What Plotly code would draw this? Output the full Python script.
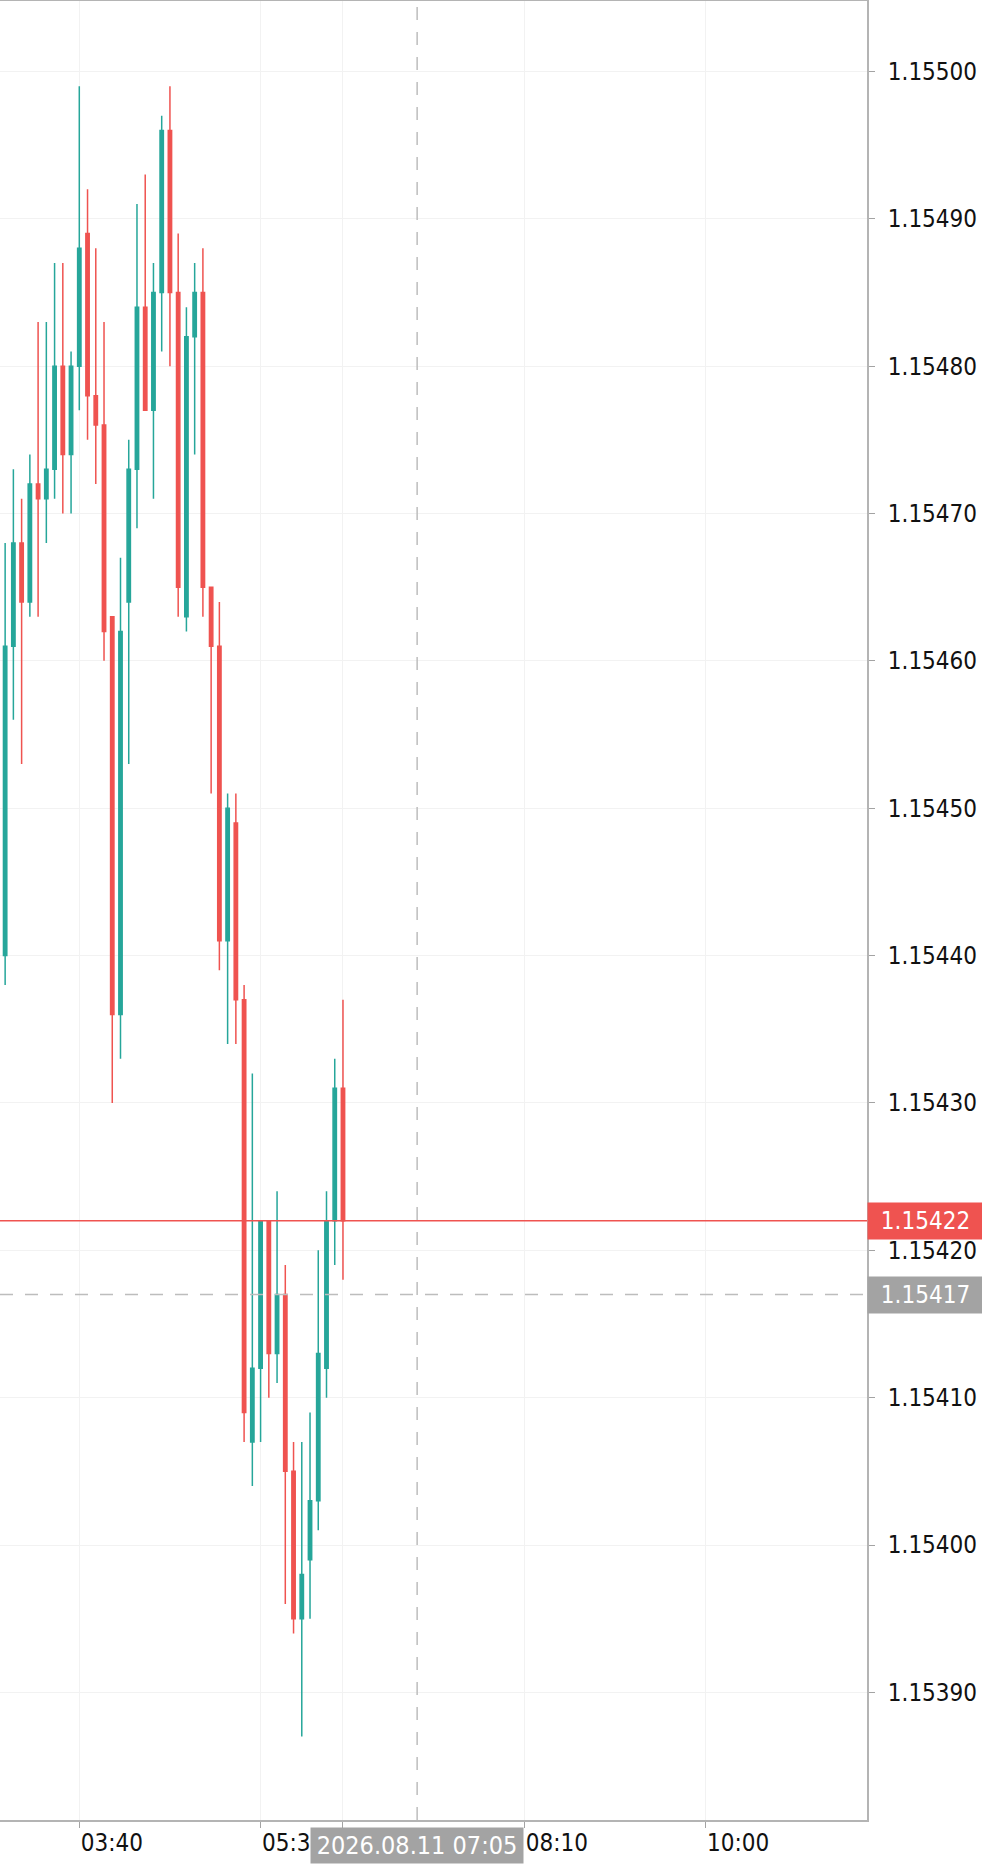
import plotly.graph_objects as go

day = "2026-08-11"
times = ["02:55", "03:00", "03:05", "03:10", "03:15", "03:20", "03:25", "03:30", "03:35", "03:40",
         "03:45", "03:50", "03:55", "04:00", "04:05", "04:10", "04:15", "04:20", "04:25", "04:30",
         "04:35", "04:40", "04:45", "04:50", "04:55", "05:00", "05:05", "05:10", "05:15", "05:20",
         "05:25", "05:30", "05:35", "05:40", "05:45", "05:50", "05:55", "06:00", "06:05", "06:10",
         "06:15", "06:20"]
opens = [1.15440, 1.15461, 1.15468, 1.15464, 1.15472, 1.15471, 1.15473, 1.15480, 1.15474, 1.15480,
         1.15489, 1.15478, 1.15476, 1.15463, 1.15436, 1.15464, 1.15473, 1.15484, 1.15477, 1.15485,
         1.15496, 1.15485, 1.15463, 1.15482, 1.15485, 1.15465, 1.15461, 1.15441, 1.15449, 1.15437,
         1.15407, 1.15412, 1.15422, 1.15413, 1.15417, 1.15405, 1.15395, 1.15399, 1.15403, 1.15412,
         1.15422, 1.15431]
highs = [1.15468, 1.15473, 1.15471, 1.15474, 1.15483, 1.15483, 1.15487, 1.15487, 1.15481, 1.15499,
         1.15492, 1.15488, 1.15483, 1.15463, 1.15467, 1.15475, 1.15491, 1.15493, 1.15487, 1.15497,
         1.15499, 1.15489, 1.15484, 1.15487, 1.15488, 1.15465, 1.15464, 1.15451, 1.15451, 1.15438,
         1.15432, 1.15422, 1.15422, 1.15424, 1.15419, 1.15407, 1.15407, 1.15409, 1.15420, 1.15424,
         1.15433, 1.15437]
lows = [1.15438, 1.15456, 1.15453, 1.15463, 1.15463, 1.15468, 1.15471, 1.15470, 1.15470, 1.15477,
        1.15475, 1.15472, 1.15460, 1.15430, 1.15433, 1.15453, 1.15469, 1.15477, 1.15471, 1.15481,
        1.15480, 1.15463, 1.15462, 1.15474, 1.15463, 1.15451, 1.15439, 1.15434, 1.15434, 1.15407,
        1.15404, 1.15407, 1.15410, 1.15411, 1.15396, 1.15394, 1.15387, 1.15395, 1.15401, 1.15410,
        1.15419, 1.15418]
closes = [1.15461, 1.15468, 1.15464, 1.15472, 1.15471, 1.15473, 1.15480, 1.15474, 1.15480, 1.15488,
          1.15478, 1.15476, 1.15462, 1.15436, 1.15462, 1.15473, 1.15484, 1.15477, 1.15485, 1.15496,
          1.15485, 1.15465, 1.15482, 1.15485, 1.15465, 1.15461, 1.15441, 1.15450, 1.15437, 1.15409,
          1.15412, 1.15422, 1.15413, 1.15417, 1.15405, 1.15395, 1.15398, 1.15403, 1.15413, 1.15422,
          1.15431, 1.15422]

tick_times = ["03:40", "05:30", "06:20", "08:10", "10:00"]
price_ticks = [1.15390, 1.15400, 1.15410, 1.15420, 1.15430, 1.15440, 1.15450,
               1.15460, 1.15470, 1.15480, 1.15490, 1.15500]
last_price = 1.15422
cross_price = 1.15417
cross_time = "07:05"
cross_label = "2026.08.11 07:05"

up = "#26a69a"
down = "#ef5350"
grey = "#a3a3a3"
font = "DejaVu Sans Condensed, DejaVu Sans"

x = [day + " " + t for t in times]

fig = go.Figure()
fig.add_trace(go.Candlestick(
    x=x, open=opens, high=highs, low=lows, close=closes,
    increasing=dict(line=dict(color=up, width=1.5), fillcolor=up),
    decreasing=dict(line=dict(color=down, width=1.5), fillcolor=down),
    whiskerwidth=0, showlegend=False, hoverinfo="skip"))

# last price line + crosshair
fig.add_shape(type="line", xref="paper", x0=0, x1=1, y0=last_price, y1=last_price,
              line=dict(color=down, width=1.5), layer="above")
fig.add_shape(type="line", xref="paper", x0=0, x1=1, y0=cross_price, y1=cross_price,
              line=dict(color="#bdbdbd", width=1.5, dash="13px,12px"), layer="above")
fig.add_shape(type="line", yref="paper", y0=0, y1=1,
              x0=day + " " + cross_time, x1=day + " " + cross_time,
              line=dict(color="#bdbdbd", width=1.5, dash="13px,12px"), layer="above")

fig.add_annotation(xref="paper", x=1, xanchor="left", y=last_price, yanchor="middle",
                   text=f"{last_price:.5f}", showarrow=False, bgcolor=down,
                   width=115, height=36, borderpad=0, align="center",
                   font=dict(family=font, size=24, color="white"))
fig.add_annotation(xref="paper", x=1, xanchor="left", y=cross_price, yanchor="middle",
                   text=f"{cross_price:.5f}", showarrow=False, bgcolor=grey,
                   width=115, height=36, borderpad=0, align="center",
                   font=dict(family=font, size=24, color="white"))
fig.add_annotation(x=day + " " + cross_time, xanchor="center", yref="paper", y=0,
                   yanchor="top", yshift=-7, text=cross_label, showarrow=False,
                   bgcolor=grey, width=212, height=35, borderpad=0,
                   font=dict(family=font, size=25, color="white"))

fig.update_layout(
    width=982, height=1869,
    margin=dict(l=0, r=115, t=1, b=49),
    paper_bgcolor="white", plot_bgcolor="white",
    font=dict(family=font, size=24, color="#111111"),
    boxgap=0.42, showlegend=False,
)
fig.update_xaxes(
    type="date", range=[day + " 02:51:53", day + " 11:37:58"],
    tickvals=[day + " " + t for t in tick_times], ticktext=tick_times,
    ticks="outside", ticklen=6, tickcolor=grey, ticklabelposition="outside right",
    showgrid=True, gridcolor="#f2f2f2", gridwidth=1,
    showline=True, linecolor="#b4b4b4", linewidth=2, mirror=True,
    rangeslider=dict(visible=False), zeroline=False,
)
fig.update_yaxes(
    side="right", range=[1.1538134, 1.1550478],
    tickvals=price_ticks, tickformat=".5f",
    ticks="outside", ticklen=6, tickcolor=grey, ticklabelstandoff=8,
    showgrid=True, gridcolor="#f2f2f2", gridwidth=1,
    showline=True, linecolor="#b4b4b4", linewidth=2, mirror=False, zeroline=False,
)

fig.write_html("out.html", config={"displayModeBar": False},
               post_script="document.body.style.margin='0';")
